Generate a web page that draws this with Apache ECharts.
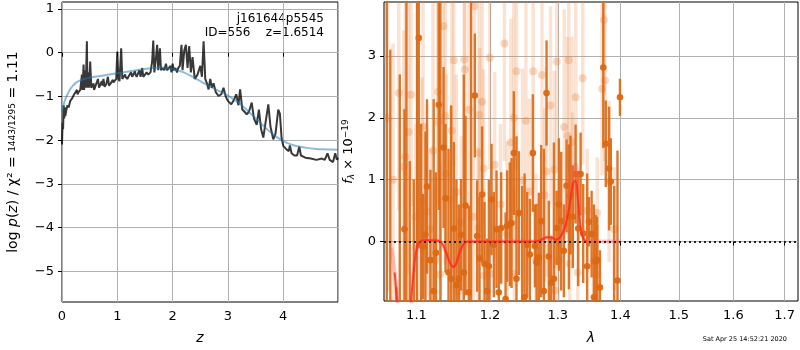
<!DOCTYPE html>
<html>
<head>
<meta charset="utf-8">
<script src="https://cdn.jsdelivr.net/npm/echarts@6.0.0/dist/echarts.min.js"></script>
<style>
  html, body { margin: 0; padding: 0; background: #fff; }
  #chart { width: 800px; height: 350px; }
</style>
</head>
<body>
<div id="chart"></div>
<script>
// ---- left panel: log p(z) ----
var pzBlack = [
  [0,-2.1],[0.01,-1.6],[0.02,-1.75],[0.03,-1.2],[0.04,-1.5],[0.05,-1.25],[0.06,-1.45],[0.08,-1.3],
  [0.1,-1.2],[0.12,-1.25],[0.15,-1.1],[0.18,-1.05],[0.2,-1.0],[0.22,-0.95],[0.25,-0.95],[0.27,-0.85],
  [0.28,-0.95],[0.3,-0.9],[0.33,-0.85],[0.35,-0.88],[0.36,-0.5],[0.37,-0.85],[0.39,-0.27],[0.4,-0.85],
  [0.42,-0.4],[0.43,-0.8],[0.45,0.26],[0.46,-0.8],[0.48,-0.45],[0.49,-0.8],[0.51,-0.2],[0.53,-0.8],
  [0.55,-0.8],[0.57,-0.7],[0.58,-0.85],[0.6,-0.78],[0.62,-0.82],[0.65,-0.6],[0.67,-0.8],[0.7,-0.78],
  [0.72,-0.65],[0.73,-0.75],[0.75,-0.6],[0.77,-0.78],[0.8,-0.72],[0.83,-0.55],[0.85,-0.75],[0.88,-0.7],
  [0.9,-0.72],[0.92,-0.62],[0.93,-0.68],[0.96,-0.7],[0.98,-0.6],[1.0,0.03],[1.02,-0.6],[1.04,-0.65],
  [1.07,0.1],[1.09,-0.6],[1.12,-0.62],[1.14,-0.5],[1.15,-0.55],[1.18,-0.6],[1.2,-0.55],[1.23,-0.58],
  [1.25,-0.45],[1.27,-0.55],[1.3,-0.55],[1.32,-0.42],[1.33,-0.5],[1.35,-0.55],[1.38,-0.52],[1.4,-0.4],
  [1.42,-0.55],[1.45,-0.35],[1.47,-0.55],[1.5,-0.5],[1.53,-0.45],[1.56,-0.5],[1.6,-0.45],[1.63,-0.2],
  [1.65,0.28],[1.67,-0.45],[1.7,-0.1],[1.72,0.18],[1.74,-0.4],[1.77,0.1],[1.79,-0.4],[1.82,-0.35],
  [1.85,-0.4],[1.88,-0.25],[1.9,-0.4],[1.93,-0.35],[1.96,-0.3],[1.98,-0.45],[2.0,-0.25],[2.02,-0.4],
  [2.05,-0.35],[2.08,-0.45],[2.1,-0.35],[2.13,-0.3],[2.16,0.18],[2.18,-0.4],[2.21,0.05],[2.24,0.18],
  [2.27,-0.35],[2.3,0.15],[2.33,-0.45],[2.36,-0.1],[2.4,-0.6],[2.45,-0.5],[2.5,-0.3],[2.53,-0.55],
  [2.56,0.26],[2.59,-0.6],[2.62,-0.7],[2.65,-0.84],[2.68,-0.6],[2.71,-0.8],[2.74,-0.7],[2.78,-0.9],
  [2.83,-0.99],[2.88,-0.95],[2.92,-0.8],[2.96,-1.0],[3.0,-1.1],[3.06,-1.18],[3.1,-1.1],[3.15,-0.95],
  [3.19,-1.2],[3.22,-0.84],[3.26,-1.3],[3.3,-1.35],[3.34,-1.41],[3.38,-1.35],[3.43,-1.14],[3.47,-1.5],
  [3.52,-1.65],[3.56,-1.3],[3.6,-1.75],[3.64,-1.94],[3.68,-1.6],[3.73,-1.18],[3.77,-1.7],[3.82,-1.98],
  [3.86,-1.85],[3.91,-1.3],[3.94,-1.4],[3.97,-1.95],[4.0,-2.13],[4.05,-2.2],[4.1,-2.25],[4.12,-2.12],
  [4.15,-2.3],[4.2,-2.35],[4.25,-2.35],[4.29,-2.15],[4.32,-2.35],[4.4,-2.4],[4.5,-2.42],[4.6,-2.45],
  [4.7,-2.42],[4.75,-2.45],[4.8,-2.3],[4.84,-2.45],[4.9,-2.5],[4.94,-2.3],[4.97,-2.45],[4.99,-2.4]
];
var pzBlue = [
  [0,-1.35],[0.05,-1.1],[0.1,-0.95],[0.15,-0.83],[0.2,-0.75],[0.25,-0.69],[0.3,-0.65],[0.4,-0.6],
  [0.5,-0.57],[0.7,-0.53],[1.0,-0.47],[1.25,-0.42],[1.5,-0.37],[1.75,-0.34],[2.0,-0.37],[2.2,-0.45],
  [2.4,-0.58],[2.6,-0.72],[2.8,-0.85],[3.0,-0.98],[3.2,-1.15],[3.4,-1.38],[3.6,-1.62],[3.8,-1.85],
  [4.0,-2.02],[4.2,-2.12],[4.4,-2.17],[4.6,-2.2],[4.8,-2.21],[4.99,-2.22]
];
var pzTicks = [-5, -4, -3, -2, -1, 0, 1];

// ---- right panel: spectrum ----
var darkLam  = [1.0621,1.0665,1.0742,1.0785,1.0845,1.0870,1.0913,1.0965,1.1008,1.1030,1.1060,1.1086,1.1117,1.1138,1.1183,1.1226,1.1256,1.1294,1.1316,1.1358,1.1385,1.1425,1.1461,1.1497,1.1532,1.1565,1.1596,1.1633,1.1657,1.1702,1.1734,1.1786,1.1818,1.1852,1.1888,1.1922,1.1959,1.1983,1.2021,1.2054,1.2092,1.2125,1.2159,1.2222,1.2245,1.2284,1.2309,1.2342,1.2381,1.2416,1.2464,1.2500,1.2538,1.2578,1.2623,1.2653,1.2679,1.2713,1.2748,1.2789,1.2829,1.2864,1.2899,1.2941,1.2982,1.3017,1.3053,1.3094,1.3136,1.3172,1.3198,1.3234,1.3277,1.3318,1.3356,1.3397,1.3460,1.3488,1.3531,1.3568,1.3595,1.3621,1.3665,1.3719,1.3759,1.3813,1.3841,1.3896,1.3951,1.3992];
var darkFlux = [4.3,-1.4,-1.3,-1.1,0.2,-1.5,-1.2,-1.1,4.2,3.29,-1.0,-0.08,0.11,0.89,-0.3,-0.8,-0.18,2.21,-2.0,1.52,0.70,-0.5,-0.6,0.21,-0.7,-0.6,0.11,-0.5,0.58,-0.82,4.5,2.36,0.09,-0.27,0.76,-0.36,-0.8,-0.4,0.68,-0.05,0.2,-0.82,0.22,-0.93,0.25,0.28,0.3,1.43,-0.6,0.46,-1.1,-0.9,-0.05,-0.21,1.43,-0.07,-0.34,-0.26,0.33,-0.8,2.40,-0.24,-0.67,-0.6,0.22,0.6,0.33,-0.15,0.9,0.4,0.75,0.4,1.09,0.21,1.09,0.13,-0.4,0.32,0.12,-0.9,-0.32,-0.3,-0.74,2.81,1.58,1.18,0.97,-1.1,-0.63,2.33];
var darkErr  = [5.5,4.5,0.56,3.8,1.94,6.0,2.5,2.1,5.5,3.4,2.9,0.85,1.67,1.41,1.46,3.1,1.3,1.7,6.5,1.3,1.2,2.0,2.8,1.4,1.7,1.2,0.9,3.2,1.45,1.4,6.0,1.0,0.9,1.0,1.1,1.0,0.85,1.4,0.9,0.85,0.95,1.0,0.9,1.4,0.9,1.0,1.05,1.0,2.3,1.0,2.0,2.0,0.85,0.9,0.95,0.67,0.95,1.05,1.23,2.3,0.85,0.9,0.75,2.2,0.6,1.07,1.12,0.75,0.75,1.17,0.96,0.83,0.8,0.93,0.67,0.8,1.5,0.4,0.7,1.5,0.75,0.7,0.6,1.3,0.7,1.0,0.7,2.0,2.1,0.3];

var lightLam  = [1.0630,1.0700,1.0772,1.0836,1.0858,1.0900,1.0930,1.0990,1.1073,1.1086,1.1138,1.1180,1.1217,1.1250,1.1283,1.1290,1.1316,1.1358,1.1381,1.1395,1.1457,1.1470,1.1497,1.1532,1.1565,1.1600,1.1640,1.1647,1.1705,1.1766,1.1782,1.1832,1.1845,1.1856,1.1888,1.1908,1.1915,1.1996,1.2005,1.2064,1.2150,1.2206,1.2245,1.2300,1.2342,1.2350,1.2381,1.2470,1.2520,1.2570,1.2627,1.2670,1.2760,1.2800,1.2825,1.2890,1.2950,1.2960,1.2985,1.3010,1.3100,1.3150,1.3170,1.3185,1.3220,1.3228,1.3280,1.3310,1.3390,1.3460,1.3560,1.3621,1.3625,1.3700,1.3730,1.3746,1.3813,1.3900];
var lightFlux = [2.0,1.0,2.40,1.21,1.37,1.77,2.37,0.4,0.65,1.86,0.49,0.2,1.47,-0.3,2.42,1.93,-0.53,3.48,2.03,1.1,0.68,1.79,2.93,0.8,-0.8,0.3,2.94,2.78,2.13,0.4,3.80,0.22,2.05,1.43,2.26,1.18,-0.55,2.97,-0.52,1.24,0.6,3.2,0.12,1.6,2.0,-0.52,2.75,0.99,1.95,0.81,2.75,-0.3,2.69,0.75,1.13,2.2,1.16,-0.79,2.91,-0.31,1.85,1.71,2.93,-0.36,1.61,0.89,2.33,-0.5,2.64,0.5,-0.3,0.46,-0.53,2.47,3.58,2.6,0.97,0.2];
var lightErr  = [2.8,2.2,1.9,2.2,2.6,2.3,1.8,1.5,2.0,2.2,1.4,1.3,2.5,1.2,1.8,2.2,1.8,1.9,2.4,1.6,1.5,2.3,1.7,1.9,1.2,1.4,1.6,2.0,1.8,1.6,1.8,1.3,2.0,1.7,2.0,1.6,1.4,1.8,1.2,1.5,1.3,1.9,1.5,2.0,2.0,1.4,1.6,1.8,2.0,1.5,1.9,1.4,1.7,1.4,1.7,1.6,1.6,1.0,1.7,1.3,1.9,1.6,1.8,1.3,1.7,1.2,1.6,1.0,1.4,1.0,0.9,0.9,0.8,1.4,1.2,1.3,1.3,1.0];

var modelLam  = [1.068,1.072,1.076,1.080,1.085,1.090,1.094,1.098,1.101,1.105,1.110,1.120,1.130,1.135,1.140,1.145,1.149,1.153,1.157,1.161,1.166,1.170,1.200,1.240,1.265,1.275,1.283,1.290,1.297,1.303,1.310,1.316,1.320,1.324,1.328,1.332,1.336,1.340,1.345,1.370,1.400];
var modelFlux = [-0.1,-0.5,-1.1,-2.0,-2.5,-1.5,-0.8,-0.3,-0.08,0.0,0.02,0.02,0.01,-0.05,-0.2,-0.36,-0.41,-0.35,-0.2,-0.08,-0.01,0.0,0.0,0.0,0.0,0.03,0.07,0.07,0.03,0.06,0.2,0.45,0.7,0.95,0.98,0.6,0.2,0.05,0.0,0.0,0.0];
var modelPeak = [-0.1,-0.5,-1.1,-2.0,-2.5,-1.5,-0.8,-0.3,-0.08,0.0,0.02,0.02,0.01,-0.05,-0.2,-0.36,-0.41,-0.35,-0.2,-0.08,-0.01,0.0,0.0,0.0,0.0,0.03,0.07,0.07,0.03,0.06,0.25,0.6,0.95,1.2,1.25,0.75,0.25,0.06,0.0,0.0,0.0];
var lamTicks = [1.1, 1.2, 1.3, 1.4, 1.5, 1.6, 1.7];
var fluxTicks = [0, 1, 2, 3];

var YMIN = -0.96, YMAX = 3.87;
var LMIN = 1.0586, LMAX = 1.727;

function minus(v) {
  return v < 0 ? '\u2212' + (-v) : String(v);
}

function errBars(lineW, r, barColor, dotColor) {
  return function (params, api) {
    var x = api.value(0), f = api.value(1), e = api.value(2);
    var lo = Math.max(f - e, YMIN), hi = Math.min(f + e, YMAX);
    var kids = [];
    if (hi > lo) {
      var a = api.coord([x, lo]), b = api.coord([x, hi]);
      kids.push({ type: 'line', shape: { x1: a[0], y1: a[1], x2: b[0], y2: b[1] },
        style: { stroke: barColor, lineWidth: lineW } });
    }
    if (f >= YMIN && f <= YMAX) {
      var p = api.coord([x, f]);
      kids.push({ type: 'circle', shape: { cx: p[0], cy: p[1], r: r }, style: { fill: dotColor } });
    }
    return { type: 'group', children: kids };
  };
}

function toLn(lam, a, b) {
  return lam.map(function (l, i) { return b ? [Math.log(l), a[i], b[i]] : [Math.log(l), a[i]]; });
}

var font = 'DejaVu Sans';
var tickLabel = { color: '#000', fontFamily: font, fontSize: 13 };
var gridLine = { show: true, lineStyle: { color: '#b0b0b0', width: 1 } };
var tickStyle = { show: true, length: 4, lineStyle: { color: '#000' } };

var chart = echarts.init(document.getElementById('chart'));
chart.setOption({
  animation: false,
  backgroundColor: '#fff',
  grid: [
    { left: 62, top: 2, width: 276, height: 302, show: true, borderColor: '#000', borderWidth: 1, backgroundColor: 'transparent' },
    { left: 384, top: 2, width: 414, height: 302, show: true, borderColor: '#000', borderWidth: 1, backgroundColor: 'transparent' }
  ],
  xAxis: [
    {
      gridIndex: 0, type: 'value', min: 0, max: 4.99, interval: 1,
      axisLine: { show: false }, axisTick: tickStyle, splitLine: gridLine,
      axisLabel: Object.assign({ margin: 8, showMaxLabel: false }, tickLabel),
      name: 'z', nameLocation: 'middle', nameGap: 29,
      nameTextStyle: { fontFamily: font, fontSize: 14, fontStyle: 'italic', color: '#000' }
    },
    {
      gridIndex: 1, type: 'value', min: Math.log(LMIN), max: Math.log(LMAX),
      axisLine: { show: false },
      axisTick: Object.assign({ customValues: lamTicks.map(Math.log) }, tickStyle),
      splitLine: gridLine,
      axisLabel: Object.assign({
        margin: 8,
        customValues: lamTicks.map(Math.log),
        formatter: function (v) { return Math.exp(v).toFixed(1); }
      }, tickLabel),
      name: 'λ', nameLocation: 'middle', nameGap: 30,
      nameTextStyle: { fontFamily: font, fontSize: 14, fontStyle: 'italic', color: '#000' }
    }
  ],
  yAxis: [
    {
      gridIndex: 0, type: 'value', min: -5.7, max: 1.16,
      axisLine: { show: false },
      axisTick: Object.assign({ customValues: pzTicks }, tickStyle),
      splitLine: gridLine,
      axisLabel: Object.assign({ margin: 8, customValues: pzTicks, formatter: minus }, tickLabel),
      name: '{n|log }{i|p}{n|(}{i|z}{n|) / χ² = }{s|1443/1295}{n| = 1.11}',
      nameLocation: 'middle', nameGap: 42,
      nameTextStyle: {
        color: '#000',
        rich: {
          n: { fontFamily: font, fontSize: 14, color: '#000' },
          i: { fontFamily: font, fontSize: 14, fontStyle: 'italic', color: '#000' },
          s: { fontFamily: font, fontSize: 9, color: '#000' }
        }
      }
    },
    {
      gridIndex: 1, type: 'value', min: YMIN, max: YMAX,
      axisLine: { show: false },
      axisTick: Object.assign({ customValues: fluxTicks }, tickStyle),
      splitLine: gridLine,
      axisLabel: Object.assign({ margin: 8, customValues: fluxTicks, formatter: minus }, tickLabel),
      name: '{i|f}{b|λ}{n| × 10}{p|−19}',
      nameLocation: 'middle', nameGap: 28,
      nameTextStyle: {
        color: '#000',
        rich: {
          n: { fontFamily: font, fontSize: 13, color: '#000' },
          i: { fontFamily: font, fontSize: 13, fontStyle: 'italic', color: '#000' },
          b: { fontFamily: font, fontSize: 9, fontStyle: 'italic', color: '#000', padding: [6, 0, 0, 0] },
          p: { fontFamily: font, fontSize: 9, color: '#000', padding: [0, 0, 6, 0] }
        }
      }
    }
  ],
  graphic: [
    { type: 'text', x: 324, y: 13, style: { text: 'j161644p5545', fill: '#000', font: '12px DejaVu Sans', textAlign: 'right', textVerticalAlign: 'top' } },
    { type: 'text', x: 324, y: 27, style: { text: 'ID=556    z=1.6514', fill: '#000', font: '12px DejaVu Sans', textAlign: 'right', textVerticalAlign: 'top' } },
    { type: 'text', x: 787, y: 336, style: { text: 'Sat Apr 25 14:52:21 2020', fill: '#000', font: '6.5px DejaVu Sans', textAlign: 'right', textVerticalAlign: 'top' } }
  ],
  series: [
    {
      type: 'line', xAxisIndex: 0, yAxisIndex: 0, data: pzBlack, showSymbol: false, clip: true,
      lineStyle: { color: 'rgba(0,0,0,0.78)', width: 2 }, z: 2
    },
    {
      type: 'line', xAxisIndex: 0, yAxisIndex: 0, data: pzBlue, showSymbol: false, smooth: 0.4, clip: true,
      lineStyle: { color: 'rgba(31,119,180,0.5)', width: 2 }, z: 3
    },
    {
      type: 'custom', xAxisIndex: 1, yAxisIndex: 1, clip: true, z: 2,
      data: toLn(lightLam, lightFlux, lightErr),
      renderItem: errBars(3.5, 4, 'rgba(236,140,70,0.24)', 'rgba(232,130,60,0.3)')
    },
    {
      type: 'custom', xAxisIndex: 1, yAxisIndex: 1, clip: true, z: 3,
      data: toLn(darkLam, darkFlux, darkErr),
      renderItem: errBars(2.4, 3.3, 'rgba(220,104,20,0.9)', 'rgba(220,104,20,0.95)')
    },
    {
      type: 'line', xAxisIndex: 1, yAxisIndex: 1, data: toLn(modelLam, modelPeak), showSymbol: false,
      smooth: 0.3, clip: true, lineStyle: { color: 'rgba(255,90,90,0.35)', width: 4 }, z: 4
    },
    {
      type: 'line', xAxisIndex: 1, yAxisIndex: 1, data: toLn(modelLam.slice(1, 39), modelFlux.slice(1, 39)), showSymbol: false,
      smooth: 0.3, clip: true, lineStyle: { color: 'rgba(255,40,20,0.8)', width: 2 }, z: 5,
      markLine: {
        silent: true, symbol: 'none', label: { show: false },
        lineStyle: { color: '#222', type: [2, 3], width: 1.8 },
        data: [{ yAxis: 0 }]
      }
    }
  ]
});
</script>
</body>
</html>
